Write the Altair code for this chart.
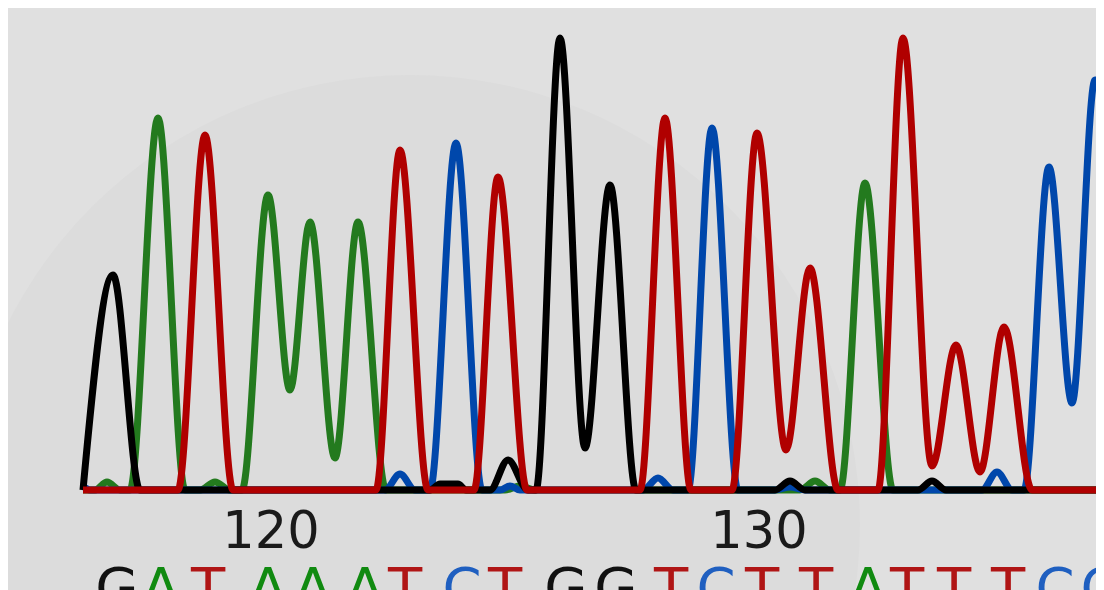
import altair as alt
import pandas as pd

# ---- trace data (scan position, signal intensity) ----
g_x = [83, 113, 140, 430, 440, 458, 466, 490, 508, 528, 536, 560, 585, 610, 636, 775, 790, 805, 918, 932, 946, 1104]
g_y = [0, 215, 0, 0, 6, 6, 0, 0, 30, 0, 0, 452, 42, 305, 0, 0, 9, 0, 0, 9, 0, 0]

a_x = [83, 95, 107, 120, 130, 158, 185, 200, 215, 230, 242, 268, 290, 310, 335, 358, 386, 505, 520, 535, 800, 815, 830, 840, 865, 893, 1104]
a_y = [0, 0, 8, 0, 0, 372, 0, 0, 8, 0, 0, 295, 100, 268, 32, 268, 0, 0, 4, 0, 0, 9, 0, 0, 307, 0, 0]

t_x = [83, 178, 205, 233, 376, 400, 428, 474, 498, 527, 640, 665, 691, 732, 757, 786, 810, 838, 878, 903, 932, 956, 980, 1004, 1032, 1104]
t_y = [0, 0, 355, 0, 0, 340, 0, 0, 313, 0, 0, 372, 0, 0, 357, 40, 222, 0, 0, 452, 24, 145, 18, 163, 0, 0]

c_x = [83, 90, 385, 400, 415, 430, 456, 482, 500, 510, 520, 643, 658, 673, 688, 712, 738, 775, 790, 805, 982, 997, 1012, 1024, 1049, 1072, 1095, 1125]
c_y = [4, 0, 0, 16, 0, 0, 347, 0, 0, 4, 0, 0, 12, 0, 0, 362, 0, 0, 3, 0, 0, 18, 0, 0, 323, 87, 410, 180]

# ---- base calls ----
bases = list("GATAAATCTGGTCTTATTTCC")
base_pos = [117, 161, 208, 268, 313, 365, 405, 462, 505, 566, 616, 671, 716, 762, 816, 868, 907, 954, 1008, 1055, 1100]

tick_labels = ["120", "130"]
tick_pos = [271, 759]

trace_colors = {"A": "#237a1e", "C": "#0047ab", "G": "#000000", "T": "#b00000"}
letter_colors = {"A": "#108a10", "C": "#1f5fc0", "G": "#111111", "T": "#b01515"}

X = alt.Scale(domain=[8, 1096], nice=False, zero=False)
Y = alt.Scale(domain=[-100, 482], nice=False, zero=False)

def trace(xs, ys, col):
    df = pd.DataFrame({"scan": xs, "signal": ys})
    return alt.Chart(df).mark_line(
        color=col, strokeWidth=7, interpolate="monotone", clip=True, strokeJoin="round"
    ).encode(
        x=alt.X("scan:Q", scale=X, axis=None),
        y=alt.Y("signal:Q", scale=Y, axis=None),
    )

vignette = alt.Chart(pd.DataFrame({"k": [0]})).mark_circle(
    color="#dcdcdc", opacity=1, size=900 * 900
).encode(
    x=alt.X(datum=410, scale=X, axis=None),
    y=alt.Y(datum=-35, scale=Y, axis=None),
)

letters_df = pd.DataFrame({"scan": base_pos, "base": bases})
letters = alt.Chart(letters_df).mark_text(
    font="DejaVu Sans", fontSize=56, baseline="alphabetic", align="center"
).encode(
    x=alt.X("scan:Q", scale=X, axis=None),
    y=alt.Y(datum=-117, scale=Y, axis=None),
    text="base:N",
    color=alt.Color("base:N", scale=alt.Scale(domain=list(letter_colors.keys()),
                                             range=list(letter_colors.values())), legend=None),
)

ticks_df = pd.DataFrame({"scan": tick_pos, "label": tick_labels})
ticks = alt.Chart(ticks_df).mark_text(
    font="DejaVu Sans", fontSize=51, baseline="alphabetic", align="center", color="#1a1a1a"
).encode(
    x=alt.X("scan:Q", scale=X, axis=None),
    y=alt.Y(datum=-58, scale=Y, axis=None),
    text="label:N",
)

chart = alt.layer(
    vignette,
    trace(a_x, a_y, trace_colors["A"]),
    trace(c_x, c_y, trace_colors["C"]),
    trace(g_x, g_y, trace_colors["G"]),
    trace(t_x, t_y, trace_colors["T"]),
    ticks,
    letters,
).properties(
    width=1088, height=582, background="#e0e0e0", padding=0,
    autosize=alt.AutoSizeParams(type="none"),
).configure_view(stroke=None)

chart.save("out.html", embed_options={"renderer": "svg", "actions": False})
